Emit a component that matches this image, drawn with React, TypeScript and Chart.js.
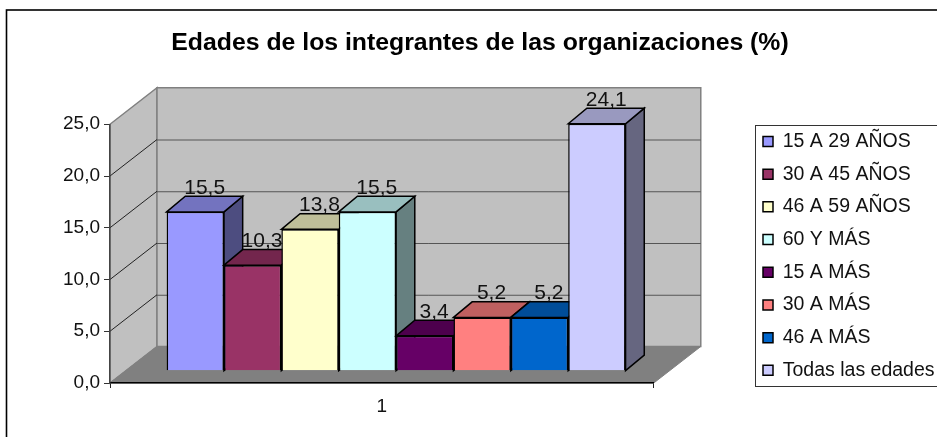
import React, { useEffect, useRef } from "react";
import { Chart, registerables } from "chart.js";

Chart.register(...registerables);

const categories = ["1"];
const seriesNames = [
  "15 A 29 AÑOS",
  "30 A 45 AÑOS",
  "46 A 59 AÑOS",
  "60 Y MÁS",
  "15 A MÁS",
  "30 A MÁS",
  "46 A MÁS",
  "Todas las edades",
];
const seriesValues = [15.5, 10.3, 13.8, 15.5, 3.4, 5.2, 5.2, 24.1];
const seriesColors = [
  [153, 153, 255],
  [153, 51, 102],
  [255, 255, 204],
  [204, 255, 255],
  [102, 0, 102],
  [255, 128, 128],
  [0, 102, 204],
  [204, 204, 255],
];
const titleText = "Edades de los integrantes de las organizaciones (%)";

const FONT = "'Liberation Sans', Arial, sans-serif";
const shade = (c: number[], k: number) =>
  `rgb(${Math.round(c[0] * k)},${Math.round(c[1] * k)},${Math.round(c[2] * k)})`;
const fmt = (v: number) => v.toFixed(1).replace(".", ",");

const WALL = { dx: 47, dy: 36.5 };
const BAR = { dx: 14.2, lift: 12.3, sx: 18.7, sy: 15.6, vScale: 0.99 };

function poly(ctx: CanvasRenderingContext2D, pts: number[][], fill: string | null, stroke: string | null, lw = 1) {
  ctx.beginPath();
  pts.forEach((p, i) => (i ? ctx.lineTo(p[0], p[1]) : ctx.moveTo(p[0], p[1])));
  ctx.closePath();
  if (fill) {
    ctx.fillStyle = fill;
    ctx.fill();
  }
  if (stroke) {
    ctx.strokeStyle = stroke;
    ctx.lineWidth = lw;
    ctx.lineJoin = "miter";
    ctx.stroke();
  }
}

const scene3d = {
  id: "scene3d",
  afterLayout(chart: any) {
    const legend = chart.legend;
    const w = legend.width;
    legend.left = 749.8;
    legend.right = legend.left + w;
    legend.top = 118.5;
    legend.bottom = legend.top + legend.height;
    chart.titleBlock.left = 0;
    chart.titleBlock.right = chart.width;
  },
  beforeDraw(chart: any) {
    const { ctx, chartArea: a, scales } = chart;
    const { dx, dy } = WALL;
    ctx.save();
    // outer chart frame (runs off the page on the right and bottom)
    ctx.strokeStyle = "#000";
    ctx.lineWidth = 1.6;
    ctx.strokeRect(6.5, 10, 990, 470);

    const y0 = scales.y.getPixelForValue(0);
    const yTop = scales.y.getPixelForValue(25);
    const l = a.left;
    const r = a.right;
    // side wall, back wall, floor
    poly(ctx, [[l, yTop], [l + dx, yTop - dy], [l + dx, y0 - dy], [l, y0]], "#c0c0c0", "#808080", 1.5);
    poly(ctx, [[l + dx, yTop - dy], [r + dx, yTop - dy], [r + dx, y0 - dy], [l + dx, y0 - dy]], "#c0c0c0", "#808080", 1.5);
    poly(ctx, [[l, y0], [l + dx, y0 - dy], [r + dx, y0 - dy], [r, y0]], "#808080", "#808080", 1);
    // gridlines on walls
    for (const t of scales.y.ticks) {
      if (t.value === 0 || t.value === 25) continue;
      const y = scales.y.getPixelForValue(t.value);
      ctx.beginPath();
      ctx.moveTo(l, y);
      ctx.lineTo(l + dx, y - dy);
      ctx.strokeStyle = "#222";
      ctx.lineWidth = 1;
      ctx.stroke();
      ctx.beginPath();
      ctx.moveTo(l + dx, y - dy + 0.5);
      ctx.lineTo(r + dx, y - dy + 0.5);
      ctx.strokeStyle = "#555";
      ctx.lineWidth = 1;
      ctx.stroke();
    }
    // legend frame
    const lg = chart.legend;
    ctx.strokeStyle = "#333";
    ctx.lineWidth = 1;
    ctx.strokeRect(755.5, lg.top + 7, 200, 261);
    ctx.restore();
  },
  beforeDatasetDraw() {
    return false;
  },
  beforeDatasetsDraw(chart: any) {
    const { ctx, scales } = chart;
    const y0 = scales.y.getPixelForValue(0);
    const base = y0 - BAR.lift;
    const { sx, sy } = BAR;
    const project = (y: number) => base - (y0 - y) * BAR.vScale;

    ctx.save();
    seriesValues.forEach((_, i) => {
      const el = chart.getDatasetMeta(i).data[0];
      const c = seriesColors[i];
      const x0 = el.x - el.width / 2 + BAR.dx;
      const x1 = el.x + el.width / 2 + BAR.dx;
      const top = project(el.y);
      poly(ctx, [[x1, top], [x1 + sx, top - sy], [x1 + sx, base - sy], [x1, base]], shade(c, 0.5), "#000", 1.5);
      poly(ctx, [[x0, top], [x0 + sx, top - sy], [x1 + sx, top - sy], [x1, top]], shade(c, 0.75), "#000", 1.5);
      ctx.save();
      ctx.translate(BAR.dx, base);
      ctx.scale(1, BAR.vScale);
      ctx.translate(0, -y0);
      el.draw(ctx);
      ctx.restore();
    });
    // value labels
    ctx.fillStyle = "#111";
    ctx.font = `21px ${FONT}`;
    ctx.textAlign = "center";
    ctx.textBaseline = "alphabetic";
    seriesValues.forEach((v, i) => {
      const el = chart.getDatasetMeta(i).data[0];
      ctx.fillText(fmt(v), el.x + BAR.dx + sx / 2, project(el.y) - sy - 2.5);
    });
    ctx.restore();
  },
};

export default function App() {
  const ref = useRef<HTMLCanvasElement>(null);
  useEffect(() => {
    const chart = new Chart(ref.current as HTMLCanvasElement, {
      type: "bar",
      data: {
        labels: categories,
        datasets: seriesNames.map((name, i) => ({
          label: name,
          data: [seriesValues[i]],
          backgroundColor: shade(seriesColors[i], 1),
          borderColor: "#000",
          borderWidth: 1.5,
          barPercentage: 1,
          categoryPercentage: 0.844,
        })),
      },
      options: {
        responsive: false,
        animation: false,
        events: [],
        devicePixelRatio: 1,
        layout: { padding: { right: 111.5 } },
        plugins: {
          tooltip: { enabled: false },
          title: {
            display: true,
            text: titleText,
            color: "#000",
            font: { family: FONT, size: 24.8, weight: "bold" },
            padding: { top: 28, bottom: 66.5 },
          },
          legend: {
            position: "right",
            align: "start",
            labels: {
              boxWidth: 10,
              boxHeight: 10,
              padding: 13.2,
              color: "#111",
              font: { family: FONT, size: 19.5 },
            },
          },
        },
        scales: {
          x: {
            offset: true,
            afterFit: (s: any) => {
              s.height = 437 - 383;
            },
            grid: { offset: true, drawOnChartArea: false, tickLength: 5, color: "#222" },
            border: { display: true, color: "#000", width: 1.5 },
            ticks: { color: "#111", padding: 7, font: { family: FONT, size: 19 } },
          },
          y: {
            min: 0,
            max: 25,
            afterFit: (s: any) => {
              s.width = 110;
            },
            grid: { drawOnChartArea: false, tickLength: 6, color: "#333" },
            border: { display: true, color: "#444", width: 1.5 },
            ticks: {
              stepSize: 5,
              color: "#111",
              padding: 4,
              font: { family: FONT, size: 19 },
              callback: (v: any) => fmt(Number(v)),
            },
          },
        },
      },
      plugins: [scene3d],
    } as any);
    return () => chart.destroy();
  }, []);
  return (
    <div style={{ position: "fixed", left: 0, top: 0, width: 937, height: 437, overflow: "hidden", background: "#fff" }}>
      <canvas ref={ref} width={960} height={437} style={{ display: "block" }} />
    </div>
  );
}
